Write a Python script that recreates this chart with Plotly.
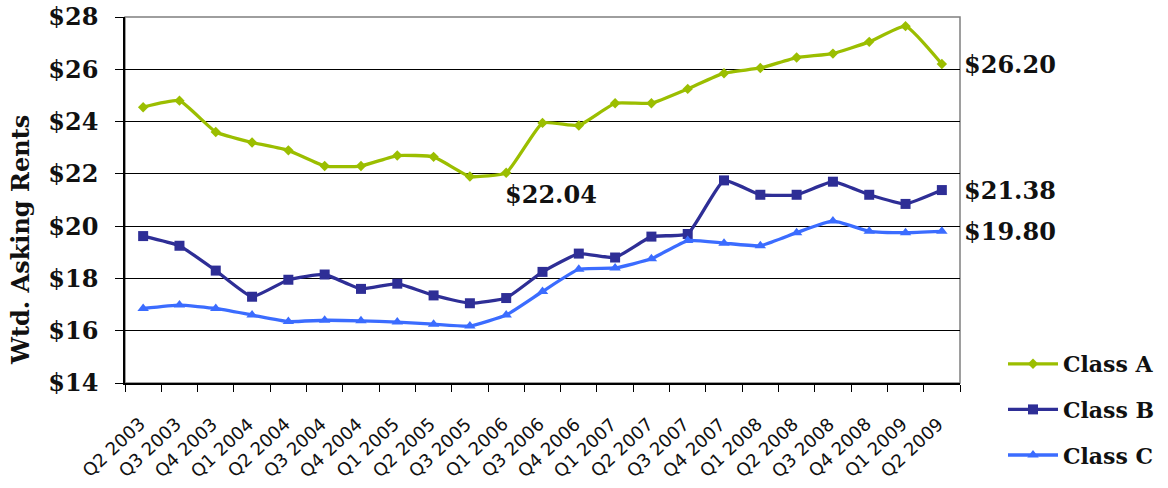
import plotly.graph_objects as go

quarters = ["Q2 2003", "Q3 2003", "Q4 2003", "Q1 2004", "Q2 2004", "Q3 2004",
            "Q4 2004", "Q1 2005", "Q2 2005", "Q3 2005", "Q1 2006", "Q3 2006",
            "Q4 2006", "Q1 2007", "Q2 2007", "Q3 2007", "Q4 2007", "Q1 2008",
            "Q2 2008", "Q3 2008", "Q4 2008", "Q1 2009", "Q2 2009"]

class_a = [24.55, 24.8, 23.6, 23.2, 22.9, 22.3, 22.3, 22.7, 22.65, 21.9, 22.04,
           23.95, 23.85, 24.7, 24.7, 25.25, 25.85, 26.05, 26.45, 26.6, 27.05,
           27.65, 26.20]
class_b = [19.62, 19.25, 18.3, 17.3, 17.95, 18.15, 17.6, 17.8, 17.35, 17.05,
           17.25, 18.25, 18.95, 18.8, 19.6, 19.7, 21.75, 21.2, 21.2, 21.7, 21.2,
           20.85, 21.38]
class_c = [16.85, 16.98, 16.85, 16.6, 16.35, 16.4, 16.38, 16.33, 16.25, 16.18,
           16.6, 17.5, 18.35, 18.4, 18.75, 19.45, 19.35, 19.25, 19.75, 20.2,
           19.8, 19.75, 19.80]

serif = "DejaVu Serif"
sans = "DejaVu Sans"
ink = "#111111"

series = [
    ("Class A", class_a, "#9BBE00", "diamond", 8),
    ("Class B", class_b, "#2E2E96", "square", 10),
    ("Class C", class_c, "#3B6CFF", "triangle-up", 10),
]

fig = go.Figure()
for name, vals, color, symbol, msize in series:
    fig.add_trace(go.Scatter(
        x=quarters, y=vals, name=name, mode="lines+markers",
        line=dict(color=color, width=3.3, shape="spline", smoothing=0.4),
        marker=dict(symbol=symbol, size=msize, color=color),
        legendgroup=name,
    ))

# value callouts
callouts = [
    (quarters[-1], class_a[-1], "left", "middle", 20, 0),
    (quarters[-1], class_b[-1], "left", "middle", 20, 0),
    (quarters[-1], class_c[-1], "left", "middle", 20, 0),
    (quarters[10], class_a[10], "left", "top", -3, -5),
]
for x, y, xa, ya, xs, ys in callouts:
    fig.add_annotation(
        x=x, y=y, text=f"${y:.2f}", showarrow=False,
        xanchor=xa, yanchor=ya, xshift=xs, yshift=ys,
        font=dict(family=serif, size=24, color=ink, weight="bold"),
    )

# slanted category labels, set a little below the axis line
for q in quarters:
    fig.add_annotation(
        x=q, y=-0.075, xref="x", yref="paper", text=q, showarrow=False,
        textangle=-43, xanchor="right", yanchor="top", xshift=8,
        font=dict(family=sans, size=18, color=ink),
    )

# rotated axis title
fig.add_annotation(
    x=(20 - 125) / 835, y=(383 - 240) / 366, xref="paper", yref="paper",
    text="Wtd. Asking Rents", showarrow=False, textangle=-90,
    xanchor="center", yanchor="middle",
    font=dict(family=serif, size=24, color=ink, weight="bold"),
)

# plot frame (top and right edges are grey)
fig.add_shape(type="rect", xref="paper", yref="paper", x0=0, y0=0, x1=1, y1=1,
              line=dict(color="#7F7F7F", width=1.5), layer="below")

fig.update_layout(
    width=1168, height=488,
    margin=dict(l=125, r=208, t=17, b=105, autoexpand=False),
    paper_bgcolor="white", plot_bgcolor="white",
    showlegend=True,
    legend=dict(
        xref="container", yref="container",
        x=1003 / 1168, y=(488 - 343) / 488, xanchor="left", yanchor="top",
        traceorder="grouped", tracegroupgap=14,
        font=dict(family=serif, size=22, color=ink, weight="bold"),
        bgcolor="rgba(0,0,0,0)", itemwidth=50,
    ),
    xaxis=dict(
        type="category", tickson="boundaries", showticklabels=False,
        ticks="outside", ticklen=7, tickcolor="black",
        showline=True, linecolor="black", linewidth=1.5,
        showgrid=False, automargin=False,
        range=[-0.5, len(quarters) - 0.5],
    ),
    yaxis=dict(
        range=[14, 28], dtick=2, tickprefix="$",
        ticks="outside", ticklen=8, tickcolor="black",
        showline=True, linecolor="black", linewidth=1.5,
        showgrid=True, gridcolor="black", gridwidth=1,
        zeroline=False, automargin=False, ticklabelstandoff=12,
        tickfont=dict(family=serif, size=24, color=ink, weight="bold"),
    ),
)

fig.write_html("out.html")
